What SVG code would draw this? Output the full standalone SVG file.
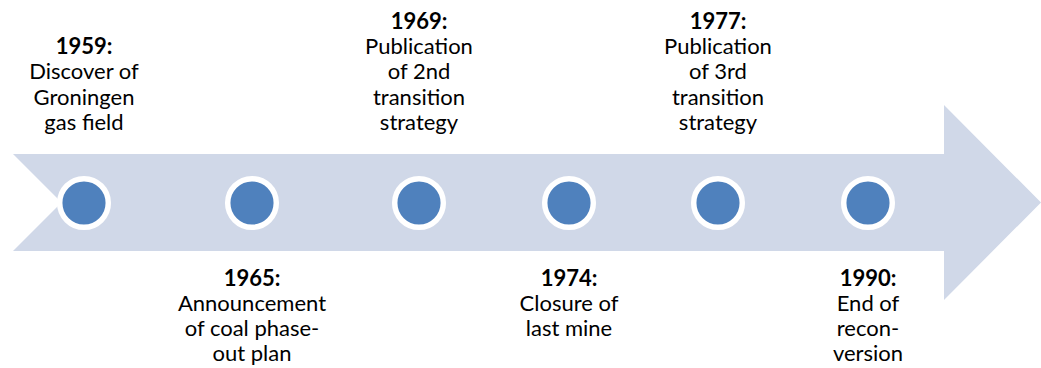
<svg xmlns="http://www.w3.org/2000/svg" width="1041" height="368" viewBox="0 0 1041 368">
<style>
.lbl{font-family:Lato,"Liberation Sans",sans-serif;font-size:22px;fill:#000;text-anchor:middle}
.yr{font-weight:bold}
.dot{fill:#4F81BD;stroke:#FFFFFF;stroke-width:5.5}
</style>
<rect width="1041" height="368" fill="#FFFFFF"/>
<g id="connectors">
<path id="timeline-arrow" d="M13,154 L944,154 L944,105 L1041,202.5 L944,300 L944,251 L13,251 L61.5,202.5 Z" fill="#D0D8E8"/>
</g>
<g id="n1959">
<circle class="dot" cx="84" cy="203" r="24.3"/>
<text class="lbl"><tspan class="yr" x="84" y="54">1959:</tspan><tspan x="84" y="79.3">Discover of</tspan><tspan x="84" y="104.6">Groningen</tspan><tspan x="84" y="129.9">gas field</tspan></text>
</g>
<g id="n1965">
<circle class="dot" cx="252" cy="203" r="24.3"/>
<text class="lbl"><tspan class="yr" x="252" y="285.5">1965:</tspan><tspan x="252" y="310.8">Announcement</tspan><tspan x="252" y="336.1">of coal phase-</tspan><tspan x="252" y="361.4">out plan</tspan></text>
</g>
<g id="n1969">
<circle class="dot" cx="419" cy="203" r="24.3"/>
<text class="lbl"><tspan class="yr" x="419" y="28.7">1969:</tspan><tspan x="419" y="54">Publication</tspan><tspan x="419" y="79.3">of 2nd</tspan><tspan x="419" y="104.6">transition</tspan><tspan x="419" y="129.9">strategy</tspan></text>
</g>
<g id="n1974">
<circle class="dot" cx="569" cy="203" r="24.3"/>
<text class="lbl"><tspan class="yr" x="569" y="285.5">1974:</tspan><tspan x="569" y="310.8">Closure of</tspan><tspan x="569" y="336.1">last mine</tspan></text>
</g>
<g id="n1977">
<circle class="dot" cx="718" cy="203" r="24.3"/>
<text class="lbl"><tspan class="yr" x="718" y="28.7">1977:</tspan><tspan x="718" y="54">Publication</tspan><tspan x="718" y="79.3">of 3rd</tspan><tspan x="718" y="104.6">transition</tspan><tspan x="718" y="129.9">strategy</tspan></text>
</g>
<g id="n1990">
<circle class="dot" cx="868" cy="203" r="24.3"/>
<text class="lbl"><tspan class="yr" x="868" y="285.5">1990:</tspan><tspan x="868" y="310.8">End of</tspan><tspan x="868" y="336.1">recon-</tspan><tspan x="868" y="361.4">version</tspan></text>
</g>
</svg>
